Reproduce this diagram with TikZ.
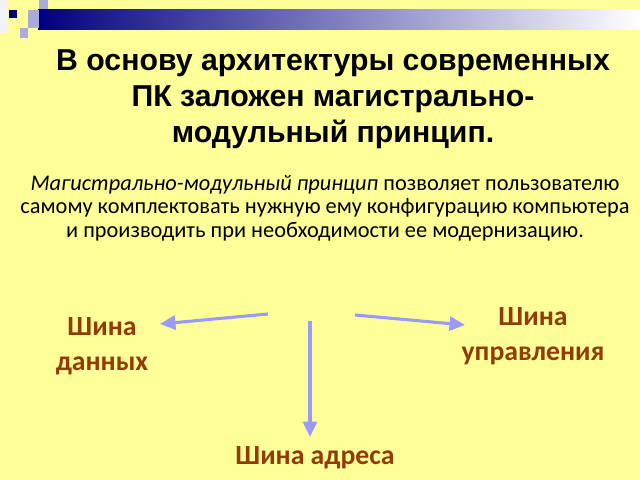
\documentclass[tikz,border=0pt]{standalone}
\usepackage{fontspec}
\setmainfont{Carlito}
\newfontfamily\titlefont{Liberation Sans}
\usetikzlibrary{arrows.meta}
\definecolor{slidebg}{RGB}{255,255,153}
\definecolor{navy}{RGB}{0,0,128}
\definecolor{lilac}{RGB}{170,170,221}
\definecolor{busarrow}{RGB}{153,153,255}
\definecolor{busbrown}{RGB}{145,60,5}
\tikzset{
  busline/.style={line width=2.2pt, busarrow, -{Triangle[length=11pt,width=10pt]}},
  buslabel/.style={align=center, text=busbrown, font=\fontsize{19.7}{25}\selectfont\bfseries}
}
\begin{document}
\begin{tikzpicture}[x=0.025cm, y=-0.025cm]
        \fill[slidebg] (0, 0) rectangle (640, 480);
        \useasboundingbox (0, 0) rectangle (640, 480);

        % header bar
        \shade[left color=navy, right color=white] (38, 9) rectangle (640, 29);
        \fill[white!85!lilac] (0, 0) rectangle (8, 33);
        \fill[navy] (9, 10) rectangle (17, 18);
        \fill[lilac] (28, 10) rectangle (39, 28);
        \fill[lilac] (20, 28) rectangle (28, 38);
        \fill[lilac] (39, 0) rectangle (48, 9);

        \node[align=center, font=\titlefont\fontsize{21.5}{25.5}\selectfont\bfseries] (title) at (333, 99)
            {В основу архитектуры современных\\ПК заложен магистрально-\\модульный принцип.};
        \node[align=center, font=\fontsize{15.9}{16.7}\selectfont] (text) at (325, 208)
            {\textit{Магистрально-модульный принцип} позволяет пользователю\\самому комплектовать нужную ему конфигурацию компьютера\\и производить при необходимости ее модернизацию.};

        \node[buslabel] (data) at (102, 346) {Шина\\данных};
        \node[buslabel] (ctrl) at (533, 336) {Шина\\управления};
        \node[buslabel] (addr) at (315, 458) {Шина адреса};

        \coordinate (lfrom) at (268, 314);
        \coordinate (lto) at (160, 324);
        \coordinate (mfrom) at (310, 321);
        \coordinate (mto) at (310, 437);
        \coordinate (rfrom) at (355, 315);
        \coordinate (rto) at (465, 325);

        \draw[busline] (lfrom) -- (lto);
        \draw[busline] (mfrom) -- (mto);
        \draw[busline] (rfrom) -- (rto);

    \end{tikzpicture}
\end{document}
